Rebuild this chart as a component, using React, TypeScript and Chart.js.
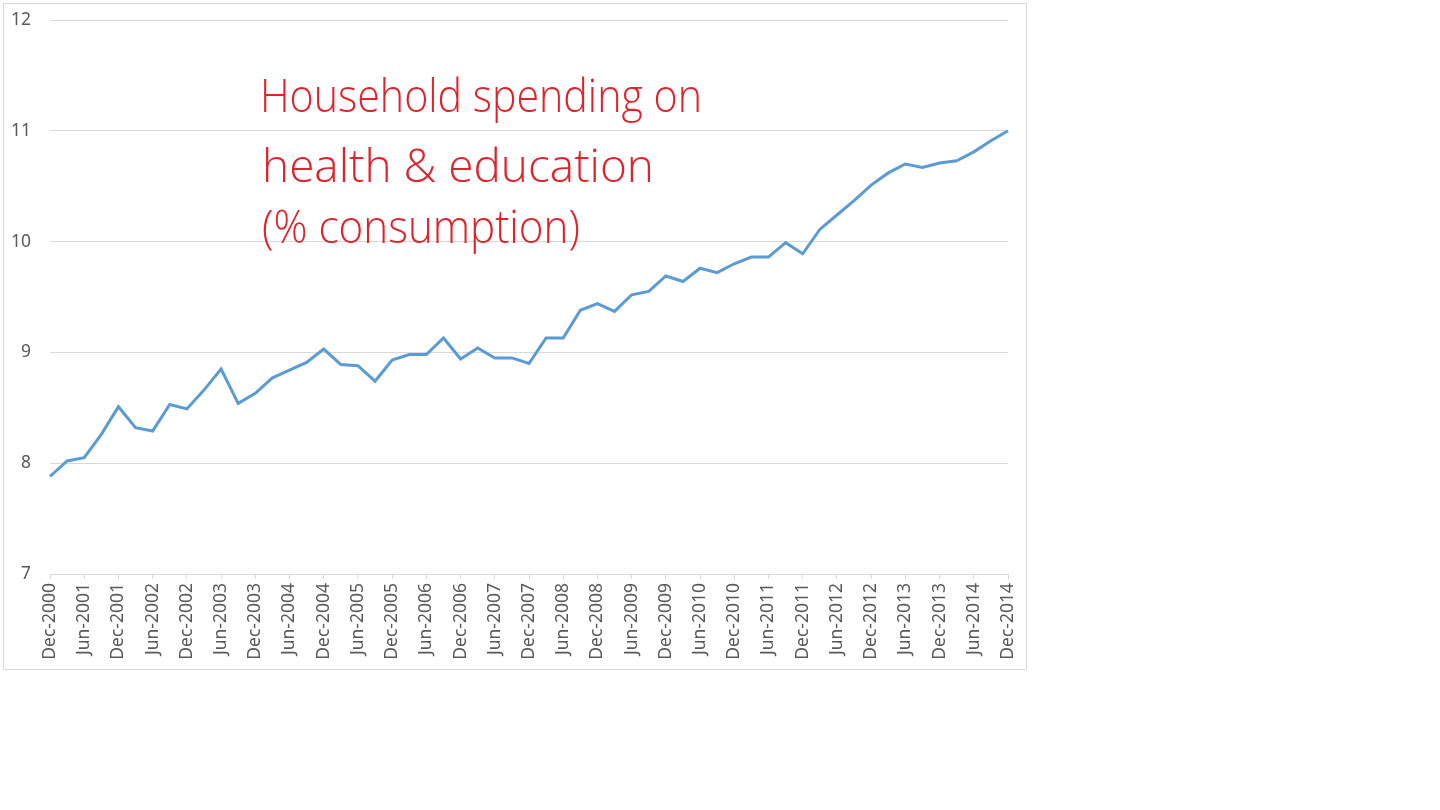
import React, { useEffect, useRef } from "react";
import { Chart, registerables } from "chart.js";

Chart.register(...registerables);

const quarterLabels: string[] = [
  "Dec-2000", "Mar-2001", "Jun-2001", "Sep-2001",
  "Dec-2001", "Mar-2002", "Jun-2002", "Sep-2002",
  "Dec-2002", "Mar-2003", "Jun-2003", "Sep-2003",
  "Dec-2003", "Mar-2004", "Jun-2004", "Sep-2004",
  "Dec-2004", "Mar-2005", "Jun-2005", "Sep-2005",
  "Dec-2005", "Mar-2006", "Jun-2006", "Sep-2006",
  "Dec-2006", "Mar-2007", "Jun-2007", "Sep-2007",
  "Dec-2007", "Mar-2008", "Jun-2008", "Sep-2008",
  "Dec-2008", "Mar-2009", "Jun-2009", "Sep-2009",
  "Dec-2009", "Mar-2010", "Jun-2010", "Sep-2010",
  "Dec-2010", "Mar-2011", "Jun-2011", "Sep-2011",
  "Dec-2011", "Mar-2012", "Jun-2012", "Sep-2012",
  "Dec-2012", "Mar-2013", "Jun-2013", "Sep-2013",
  "Dec-2013", "Mar-2014", "Jun-2014", "Sep-2014",
  "Dec-2014",
];

const spendingShare: number[] = [
  7.88, 8.02, 8.05, 8.26,
  8.51, 8.32, 8.29, 8.53,
  8.49, 8.66, 8.85, 8.54,
  8.63, 8.77, 8.84, 8.91,
  9.03, 8.89, 8.88, 8.74,
  8.93, 8.98, 8.98, 9.13,
  8.94, 9.04, 8.95, 8.95,
  8.90, 9.13, 9.13, 9.38,
  9.44, 9.37, 9.52, 9.55,
  9.69, 9.64, 9.76, 9.72,
  9.80, 9.86, 9.86, 9.99,
  9.89, 10.11, 10.24, 10.37,
  10.51, 10.62, 10.70, 10.67,
  10.71, 10.73, 10.81, 10.91,
  11.00,
];

const annotationLines: string[] = [
  "Household spending on",
  "health & education",
  "(% consumption)",
];

const yMin = 7;
const yMax = 12;

const annotationPlugin = {
  id: "handNote",
  afterDraw(chart: any) {
    const ctx = chart.ctx as CanvasRenderingContext2D;
    // [left, baseline, target width] in canvas coords
    const placements: [number, number, number][] = [
      [256, 108, 442],
      [258, 178, 392],
      [258, 239, 318],
    ];
    ctx.save();
    ctx.fillStyle = "#e0222b";
    ctx.font = "300 42px 'Open Sans', 'DejaVu Sans', sans-serif";
    ctx.textBaseline = "alphabetic";
    ctx.textAlign = "left";
    annotationLines.forEach((line, i) => {
      const [x, y, w] = placements[i];
      const m = ctx.measureText(line).width;
      ctx.save();
      ctx.translate(x, y);
      ctx.scale(w / m, 1.08);
      ctx.fillText(line, 0, 0);
      ctx.restore();
    });
    ctx.restore();
  },
};

export default function App() {
  const canvasRef = useRef<HTMLCanvasElement | null>(null);

  useEffect(() => {
    document.body.style.margin = "0";
    const canvas = canvasRef.current;
    if (!canvas) return;
    const chart = new Chart(canvas, {
      type: "line",
      data: {
        labels: quarterLabels,
        datasets: [
          {
            data: spendingShare,
            borderColor: "#5b9bd5",
            backgroundColor: "#5b9bd5",
            borderWidth: 3,
            pointRadius: 0,
            pointHoverRadius: 0,
            tension: 0,
            fill: false,
          },
        ],
      },
      options: {
        animation: false,
        responsive: false,
        maintainAspectRatio: false,
        layout: {
          autoPadding: false,
          padding: { top: 16, right: 18, bottom: 0, left: 0 },
        },
        plugins: {
          legend: { display: false },
          tooltip: { enabled: false },
          title: { display: false },
        },
        scales: {
          x: {
            type: "category",
            offset: false,
            afterFit: (scale: any) => {
              scale.height = 95;
              scale.paddingLeft = 0;
              scale.paddingRight = 0;
            },
            grid: {
              display: true,
              drawOnChartArea: false,
              drawTicks: true,
              tickLength: 5,
              color: "#d9d9d9",
            },
            border: { display: true, color: "#d9d9d9", width: 1 },
            ticks: {
              autoSkip: false,
              minRotation: 90,
              maxRotation: 90,
              padding: 4,
              color: "#595959",
              font: { family: "'Noto Sans', 'Open Sans', sans-serif", size: 17.5 },
              callback: (_v: any, i: number) =>
                i % 2 === 0 ? quarterLabels[i] : null,
            },
          },
          y: {
            min: yMin,
            max: yMax,
            afterFit: (scale: any) => {
              scale.width = 46;
              scale.paddingTop = 0;
              scale.paddingBottom = 0;
            },
            grid: {
              display: true,
              drawTicks: false,
              color: "#d9d9d9",
              lineWidth: 1,
            },
            border: { display: false },
            ticks: {
              stepSize: 1,
              padding: 19,
              color: "#595959",
              font: { family: "'Noto Sans', 'Open Sans', sans-serif", size: 17.5 },
            },
          },
        },
      },
      plugins: [annotationPlugin],
    });
    return () => chart.destroy();
  }, []);

  return (
    <div style={{ position: "relative", width: 1440, height: 810, background: "#ffffff" }}>
      <div
        style={{
          position: "absolute",
          left: 3,
          top: 3,
          width: 1022,
          height: 665,
          border: "1px solid #d9d9d9",
        }}
      >
        <canvas
          ref={canvasRef}
          width={1022}
          height={665}
          style={{ display: "block", width: 1022, height: 665 }}
        />
      </div>
    </div>
  );
}
